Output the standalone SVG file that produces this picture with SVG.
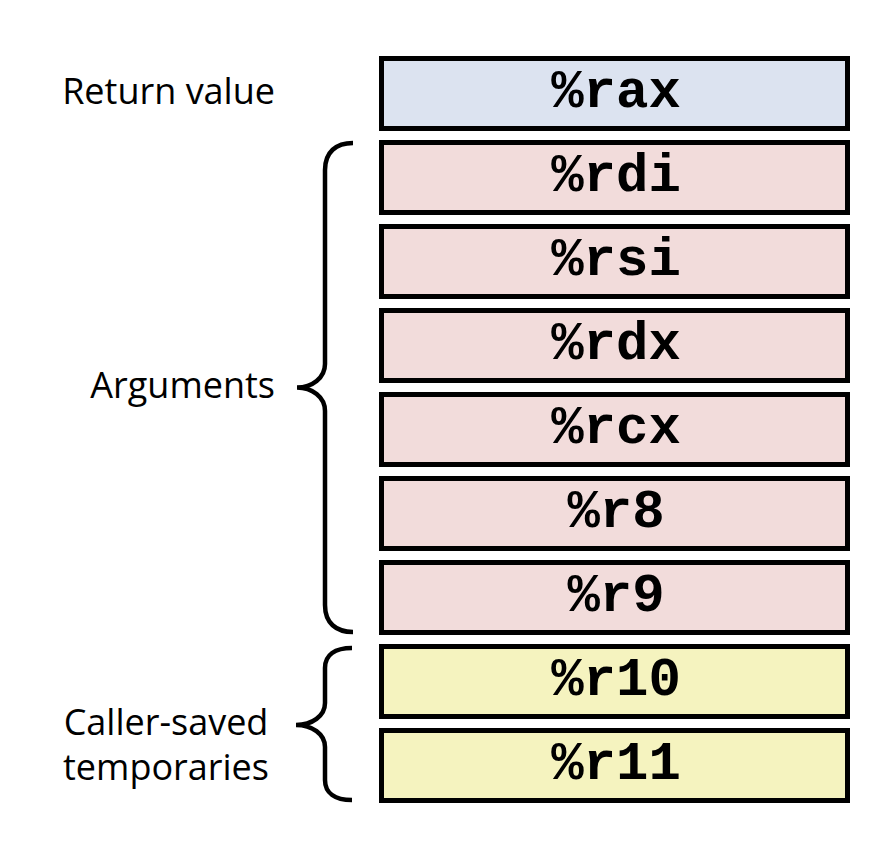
<svg xmlns="http://www.w3.org/2000/svg" width="894" height="863" viewBox="0 0 894 863">
<style>
.box{stroke:#000;stroke-width:5}
.ret{fill:#dce3f0}
.arg{fill:#f2dcdb}
.tmp{fill:#f5f3bf}
.reg{font-family:"Liberation Mono","Courier New",monospace;font-weight:bold;font-size:54px;text-anchor:middle;fill:#000}
.lbl{font-family:"Open Sans","Liberation Sans",sans-serif;font-size:36px;fill:#000}
.brace{fill:none;stroke:#000;stroke-width:4.5;stroke-linecap:butt}
</style>
<rect width="894" height="863" fill="#fff"/>
<g id="rax"><rect class="box ret" x="381.5" y="58.5" width="466" height="70"/><text class="reg" x="616" y="107">%rax</text></g>
<g id="rdi"><rect class="box arg" x="381.5" y="142.5" width="466" height="70"/><text class="reg" x="616" y="191">%rdi</text></g>
<g id="rsi"><rect class="box arg" x="381.5" y="226.5" width="466" height="70"/><text class="reg" x="616" y="275">%rsi</text></g>
<g id="rdx"><rect class="box arg" x="381.5" y="310.5" width="466" height="70"/><text class="reg" x="616" y="359">%rdx</text></g>
<g id="rcx"><rect class="box arg" x="381.5" y="394.5" width="466" height="70"/><text class="reg" x="616" y="443">%rcx</text></g>
<g id="r8"><rect class="box arg" x="381.5" y="478.5" width="466" height="70"/><text class="reg" x="616" y="527">%r8</text></g>
<g id="r9"><rect class="box arg" x="381.5" y="562.5" width="466" height="70"/><text class="reg" x="616" y="611">%r9</text></g>
<g id="r10"><rect class="box tmp" x="381.5" y="646.5" width="466" height="70"/><text class="reg" x="616" y="695">%r10</text></g>
<g id="r11"><rect class="box tmp" x="381.5" y="730.5" width="466" height="70"/><text class="reg" x="616" y="779">%r11</text></g>
<g id="label-return"><text class="lbl" x="275" y="104" text-anchor="end">Return value</text></g>
<g id="label-args"><text class="lbl" x="275" y="398" text-anchor="end">Arguments</text></g>
<g id="label-caller"><text class="lbl" x="166" y="735" text-anchor="middle">Caller-saved</text><text class="lbl" x="166" y="780" text-anchor="middle">temporaries</text></g>
<g id="connectors">
<path class="brace" d="M353,143 C336,143 325,152 325,170 L325,364 C325,378 312,387.5 297,387.5 C312,387.5 325,397 325,411 L325,605 C325,623 336,632 353,632"/>
<path class="brace" d="M352,648 C335,648 325,655 325,668 L325,703 C325,716 312,725 296,725 C312,725 325,734 325,747 L325,780 C325,793 335,800 352,800"/>
</g>
</svg>
